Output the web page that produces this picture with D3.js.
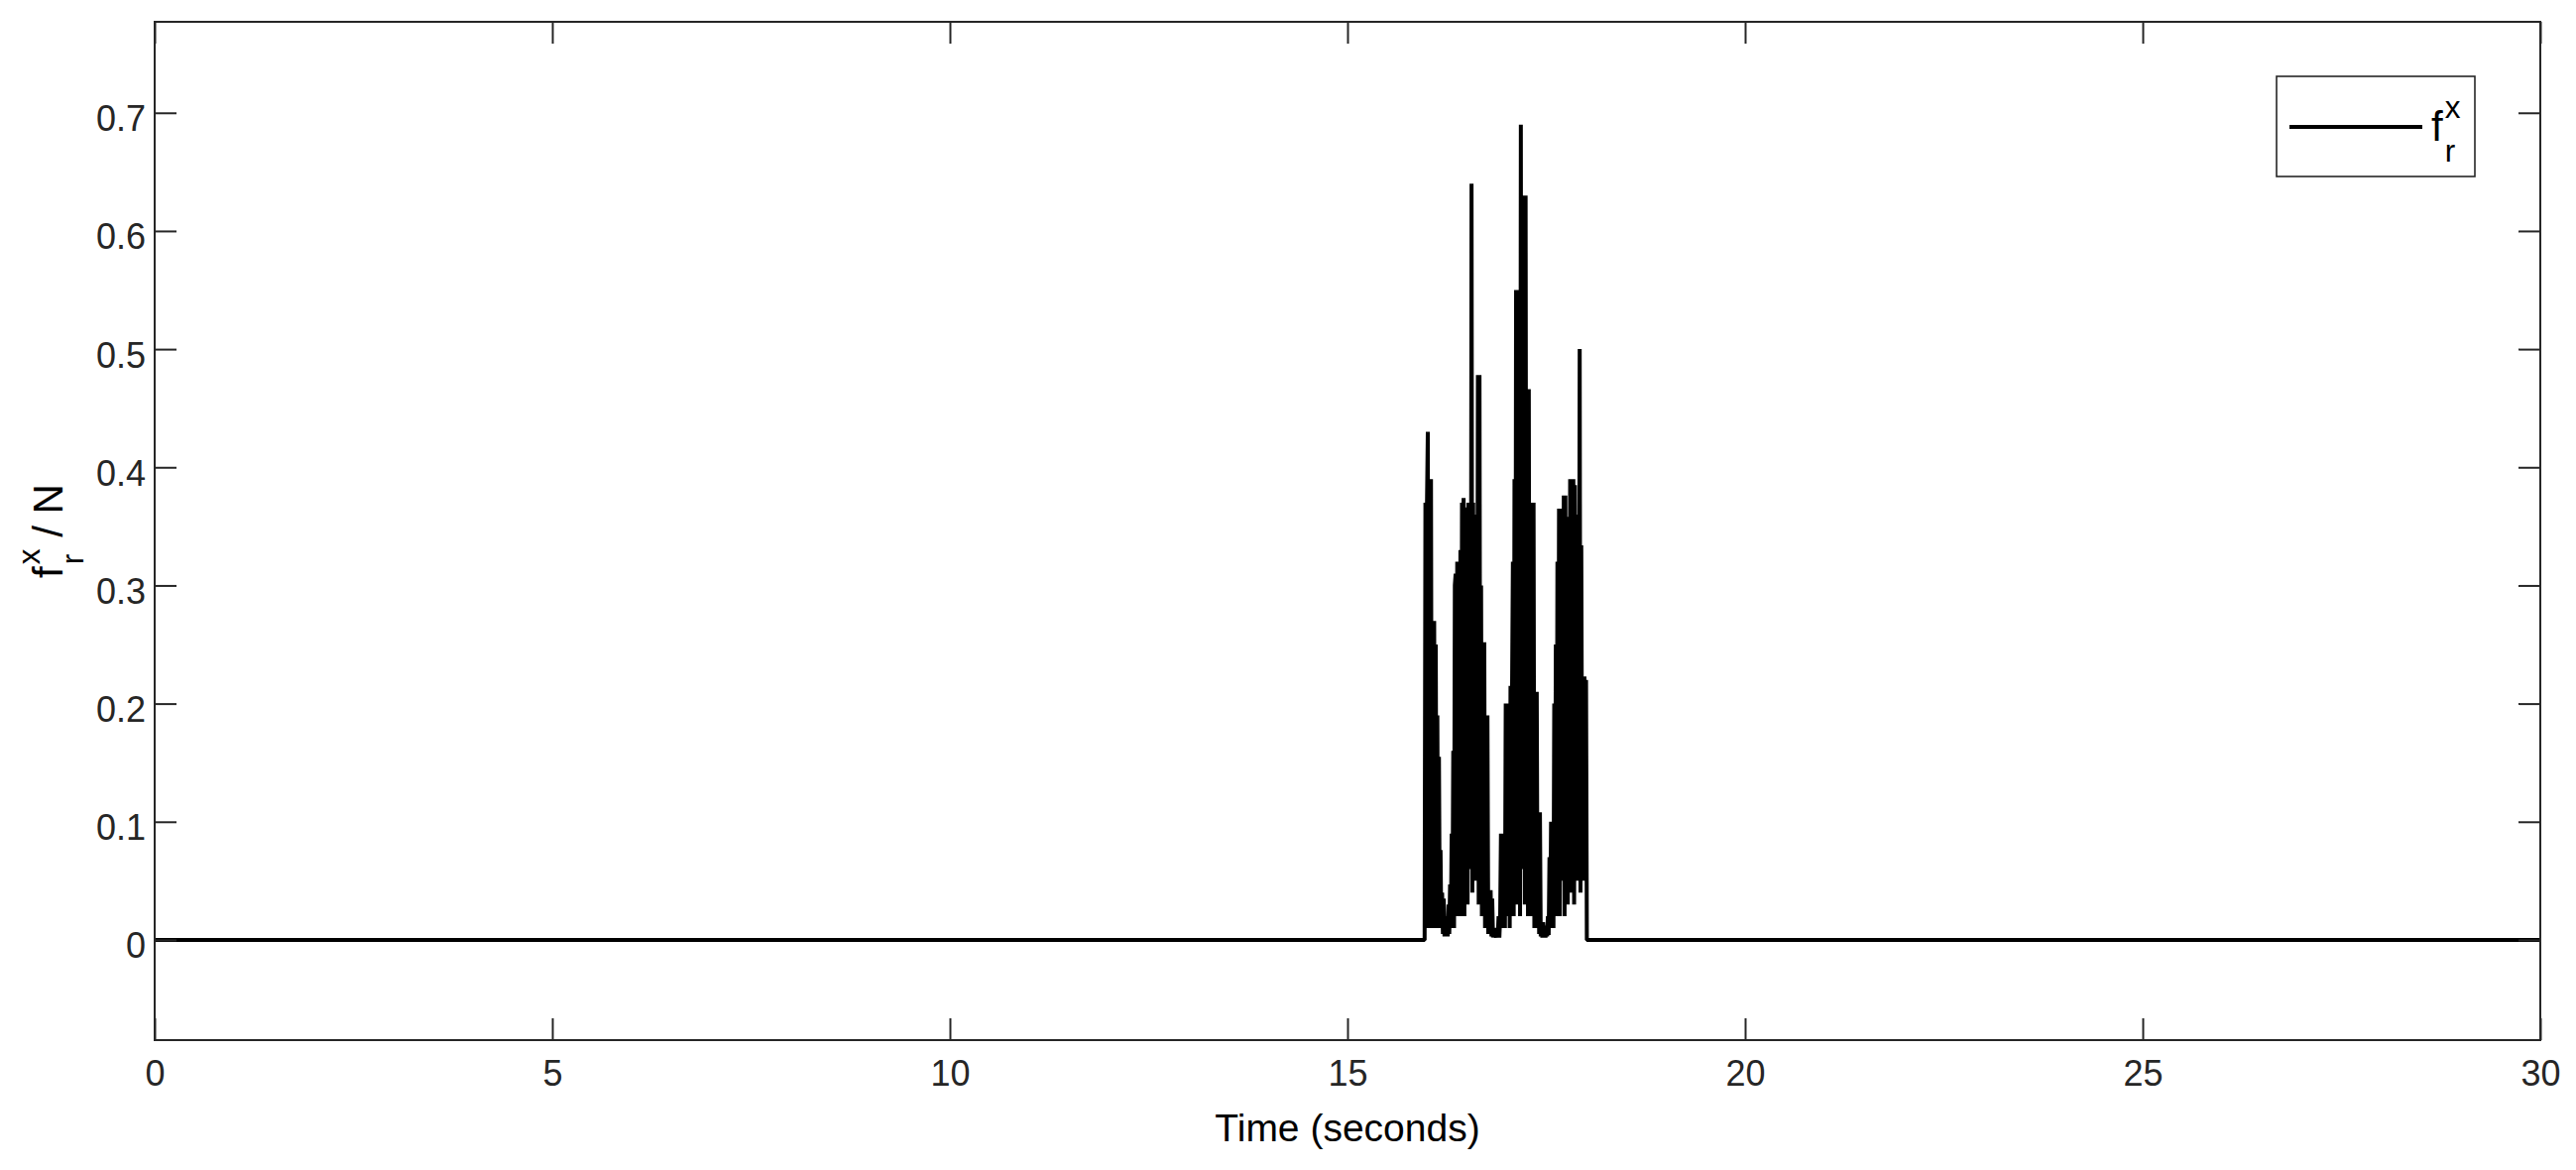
<!DOCTYPE html>
<html>
<head>
<meta charset="utf-8">
<script src="https://cdn.jsdelivr.net/npm/d3@7"></script>
<style>
  html, body { margin: 0; padding: 0; background: #fff; }
  svg { display: block; }
  text { font-family: "Liberation Sans", Arial, Helvetica, sans-serif; white-space: pre; }
</style>
</head>
<body>
<svg id="chart" width="2598" height="1180"></svg>
<script>
// ---------------- data ----------------
const xTicks = [0, 5, 10, 15, 20, 25, 30];
const yTicks = [0, 0.1, 0.2, 0.3, 0.4, 0.5, 0.6, 0.7];
const yTickLabels = ["0", "0.1", "0.2", "0.3", "0.4", "0.5", "0.6", "0.7"];
const xDomain = [0, 30];
const yDomain = [-0.0848, 0.777];

// quiet periods (force = 0)
const quietBefore = [[0, 0], [15.97, 0]];
const quietAfter = [[18.01, 0], [30, 0]];

// burst samples, 0.01 s apart, starting at t = 15.98 s
const burstStart = 15.98;
const burstStep = 0.01;
const burstForce = [
  0.37, 0.02, 0.37, 0.43, 0.01, 0.39, 0.02, 0.39, 0.01, 0.27,   // 15.98
  0.02, 0.27, 0.01, 0.25, 0.02, 0.19, 0.01, 0.155, 0.02, 0.076, // 16.08
  0.01, 0.04, 0.005, 0.035, 0.003, 0.01, 0.004, 0.02, 0.003, 0.03, // 16.18
  0.005, 0.047, 0.01, 0.09, 0.02, 0.16, 0.01, 0.30, 0.31, 0.03, // 16.28
  0.32, 0.02, 0.32, 0.05, 0.33, 0.02, 0.37, 0.08, 0.374, 0.02,  // 16.38
  0.366, 0.09, 0.36, 0.03, 0.37, 0.12, 0.37, 0.06, 0.64, 0.04,  // 16.48
  0.37, 0.10, 0.36, 0.05, 0.36, 0.09, 0.478, 0.03, 0.478, 0.06, // 16.58
  0.30, 0.02, 0.252, 0.03, 0.252, 0.01, 0.19, 0.02, 0.19, 0.005, // 16.68
  0.04, 0.01, 0.042, 0.003, 0.035, 0.002, 0.01, 0.003, 0.006, 0.002, // 16.78
  0.01, 0.003, 0.02, 0.002, 0.02, 0.09, 0.01, 0.09, 0.03, 0.09, // 16.88
  0.01, 0.20, 0.02, 0.20, 0.04, 0.20, 0.01, 0.215, 0.03, 0.215, // 16.98
  0.32, 0.02, 0.39, 0.05, 0.55, 0.03, 0.55, 0.08, 0.55, 0.02,   // 17.08
  0.69, 0.06, 0.63, 0.10, 0.63, 0.03, 0.63, 0.07, 0.466, 0.02,  // 17.18
  0.466, 0.05, 0.37, 0.02, 0.37, 0.04, 0.37, 0.01, 0.21, 0.03,  // 17.28
  0.21, 0.01, 0.108, 0.005, 0.108, 0.003, 0.015, 0.002, 0.015, 0.004, // 17.38
  0.012, 0.002, 0.01, 0.003, 0.02, 0.004, 0.07, 0.01, 0.10, 0.02, // 17.48
  0.10, 0.01, 0.20, 0.03, 0.25, 0.02, 0.32, 0.06, 0.365, 0.02,  // 17.58
  0.365, 0.05, 0.365, 0.10, 0.376, 0.02, 0.376, 0.08, 0.358, 0.03, // 17.68
  0.358, 0.12, 0.39, 0.04, 0.39, 0.10, 0.39, 0.03, 0.385, 0.11, // 17.78
  0.36, 0.05, 0.36, 0.10, 0.50, 0.04, 0.334, 0.12, 0.223, 0.05, // 17.88
  0.223, 0.10, 0.22                                             // 17.98
];

// ---------------- layout ----------------
const W = 2598, H = 1180;
const plot = { left: 156, right: 2562, top: 22, bottom: 1049 };
const axisColor = "#262626";
const tickFont = 36;
const labelFont = 39;
const symFont = 42;
const tickLen = 22;

const svg = d3.select("#chart");
svg.append("rect").attr("width", W).attr("height", H).attr("fill", "#fff");

const x = d3.scaleLinear().domain(xDomain).range([plot.left, plot.right]);
const y = d3.scaleLinear().domain(yDomain).range([plot.bottom, plot.top]);

// build series
const series = [];
quietBefore.forEach(p => series.push({ t: p[0], f: p[1] }));
burstForce.forEach((v, i) => series.push({ t: +(burstStart + i * burstStep).toFixed(2), f: v }));
quietAfter.forEach(p => series.push({ t: p[0], f: p[1] }));

// clip
svg.append("defs").append("clipPath").attr("id", "clip")
  .append("rect")
  .attr("x", plot.left).attr("y", plot.top)
  .attr("width", plot.right - plot.left).attr("height", plot.bottom - plot.top);

// data line
const line = d3.line().x(d => x(d.t)).y(d => y(d.f));
svg.append("path")
  .datum(series)
  .attr("clip-path", "url(#clip)")
  .attr("d", line)
  .attr("fill", "none")
  .attr("stroke", "#000")
  .attr("stroke-width", 4)
  .attr("stroke-linejoin", "bevel");

// axes (MATLAB box style, inward ticks on all sides)
function styleAxis(g) {
  g.select(".domain").remove();
  g.selectAll(".tick line").attr("stroke", axisColor).attr("stroke-width", 2);
  g.selectAll(".tick text").attr("fill", axisColor).style("font-size", tickFont + "px")
    .style("font-family", '"Liberation Sans", Arial, sans-serif');
}

const xAxisB = d3.axisBottom(x).tickValues(xTicks).tickFormat(d3.format("d"))
  .tickSizeInner(-tickLen).tickSizeOuter(0).tickPadding(20);
const gxb = svg.append("g").attr("transform", `translate(0,${plot.bottom})`).call(xAxisB);
styleAxis(gxb);
gxb.selectAll(".tick text").attr("dy", null).attr("y", 46);

const xAxisT = d3.axisTop(x).tickValues(xTicks).tickFormat("")
  .tickSizeInner(-tickLen).tickSizeOuter(0);
const gxt = svg.append("g").attr("transform", `translate(0,${plot.top})`).call(xAxisT);
styleAxis(gxt);

const yAxisL = d3.axisLeft(y).tickValues(yTicks).tickFormat((d, i) => yTickLabels[i])
  .tickSizeInner(-tickLen).tickSizeOuter(0);
const gyl = svg.append("g").attr("transform", `translate(${plot.left},0)`).call(yAxisL);
styleAxis(gyl);
gyl.selectAll(".tick text").attr("x", -9).attr("dy", null).attr("y", 18);

const yAxisR = d3.axisRight(y).tickValues(yTicks).tickFormat("")
  .tickSizeInner(-tickLen).tickSizeOuter(0);
const gyr = svg.append("g").attr("transform", `translate(${plot.right},0)`).call(yAxisR);
styleAxis(gyr);

// box
svg.append("rect")
  .attr("x", plot.left).attr("y", plot.top)
  .attr("width", plot.right - plot.left).attr("height", plot.bottom - plot.top)
  .attr("fill", "none").attr("stroke", axisColor).attr("stroke-width", 2);

// f_r^x helper: draws "f" with stacked superscript x and subscript r, then suffix
function drawFrx(g, x0, baseY, fs, suffix, color) {
  const f = g.append("text").attr("x", x0).attr("y", baseY)
    .style("font-size", fs + "px").attr("fill", color).text("f");
  const fw = f.node().getComputedTextLength();
  const sfs = fs * 0.75;
  const sx = x0 + fw + 2;
  const sup = g.append("text").attr("x", sx).attr("y", baseY - fs * 0.55)
    .style("font-size", sfs + "px").attr("fill", color).text("x");
  const sub = g.append("text").attr("x", sx).attr("y", baseY + fs * 0.5)
    .style("font-size", sfs + "px").attr("fill", color).text("r");
  const sw = Math.max(sup.node().getComputedTextLength(), sub.node().getComputedTextLength());
  let total = fw + 2 + sw;
  if (suffix) {
    const s = g.append("text").attr("x", x0 + total).attr("y", baseY)
      .style("font-size", fs + "px").attr("fill", color).text(suffix);
    total += s.node().getComputedTextLength();
  }
  return total;
}

// x label
svg.append("text")
  .attr("x", (plot.left + plot.right) / 2).attr("y", 1151)
  .attr("text-anchor", "middle").attr("fill", "#000")
  .style("font-size", labelFont + "px")
  .text("Time (seconds)");

// y label (rotated)
const cy = (plot.top + plot.bottom) / 2;
const yl = svg.append("g").attr("transform", `translate(63,${cy}) rotate(-90)`);
const ylInner = yl.append("g");
const wY = drawFrx(ylInner, 0, 0, symFont, " / N", "#000");
ylInner.attr("transform", `translate(${-wY / 2},0)`);

// legend
const lg = svg.append("g");
lg.append("rect").attr("x", 2296).attr("y", 77).attr("width", 200).attr("height", 101)
  .attr("fill", "#fff").attr("stroke", axisColor).attr("stroke-width", 1.6);
lg.append("line").attr("x1", 2309).attr("x2", 2443).attr("y1", 128).attr("y2", 128)
  .attr("stroke", "#000").attr("stroke-width", 4);
drawFrx(lg, 2452, 142, symFont, "", "#000");
</script>
</body>
</html>
